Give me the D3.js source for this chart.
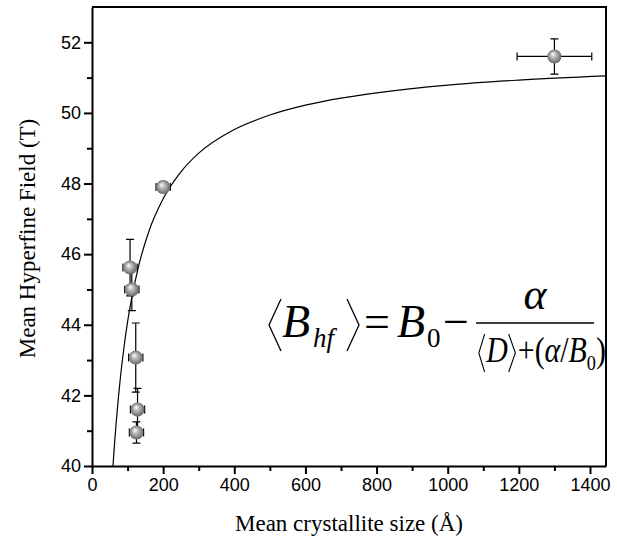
<!DOCTYPE html>
<html>
<head>
<meta charset="utf-8">
<script src="https://cdn.jsdelivr.net/npm/d3@7"></script>
<style>
  body { margin: 0; background: #fff; }
  svg { display: block; }
  .tick text { font-family: "Liberation Sans", Arial, sans-serif; font-size: 18px; fill: #000; }
  .title { font-family: "Liberation Serif", "Times New Roman", serif; font-size: 23px; fill: #000; }
  .eq { font-family: "Liberation Serif", "Times New Roman", serif; fill: #000; }
</style>
</head>
<body>
<svg width="617" height="543"></svg>
<script>
// measured points
var sizes     = [1300, 200, 107, 112, 123, 128, 125];
var fields    = [51.6, 47.9, 45.62, 45.0, 43.07, 41.6, 40.95];
var sizeErr   = [105, 20, 20, 20, 20, 20, 20];
var fieldErr  = [0.5, 0.15, 0.8, 0.6, 0.98, 0.6, 0.3];

// fit curve
var fitSize  = [59, 62, 65, 68, 75, 80, 90, 100, 110, 130, 160, 200, 250, 300, 400, 500, 600, 700, 800, 1000, 1200, 1445];
var fitField = [40.0, 40.44, 40.85, 41.23, 42.02, 42.52, 43.37, 44.08, 44.67, 45.62, 46.65, 47.57, 48.33, 48.86, 49.53, 49.94, 50.22, 50.42, 50.57, 50.79, 50.93, 51.05];

var xTicks = d3.range(0, 1401, 100);
var yTicks = d3.range(40, 53, 1);

var svg = d3.select("svg"),
    mLeft = 92, mRight = 606, mTop = 7, mBottom = 466;

var x = d3.scaleLinear().domain([0, 1445]).range([mLeft, mRight]);
var y = d3.scaleLinear().domain([40, 53]).range([mBottom, mTop]);

var defs = svg.append("defs");
var grad = defs.append("radialGradient")
    .attr("id", "ball")
    .attr("cx", "50%").attr("cy", "50%").attr("r", "55%")
    .attr("fx", "38%").attr("fy", "32%");
grad.append("stop").attr("offset", "0%").attr("stop-color", "#ffffff");
grad.append("stop").attr("offset", "35%").attr("stop-color", "#bdbdbd");
grad.append("stop").attr("offset", "80%").attr("stop-color", "#7a7a7a");
grad.append("stop").attr("offset", "100%").attr("stop-color", "#5a5a5a");

defs.append("clipPath").attr("id", "plot")
  .append("rect").attr("x", mLeft).attr("y", mTop)
    .attr("width", mRight - mLeft).attr("height", mBottom - mTop);

// frame (top and right)
svg.append("path")
    .attr("d", "M" + mLeft + "," + mTop + "H" + mRight + "V" + mBottom)
    .attr("fill", "none").attr("stroke", "#000").attr("stroke-width", 2);

// axes
var xAxis = svg.append("g")
    .attr("transform", "translate(0," + mBottom + ")")
    .call(d3.axisBottom(x).tickValues(xTicks).tickSizeOuter(0)
      .tickFormat(function(d) { return d % 200 == 0 ? d : ""; }));
xAxis.select(".domain").attr("stroke-width", 2);
xAxis.selectAll(".tick line")
    .attr("stroke-width", 2)
    .attr("y2", function(d) { return d % 200 == 0 ? 8 : 5; });
xAxis.selectAll(".tick text").attr("y", 12);

var yAxis = svg.append("g")
    .attr("transform", "translate(" + mLeft + ",0)")
    .call(d3.axisLeft(y).tickValues(yTicks).tickSizeOuter(0)
      .tickFormat(function(d) { return d % 2 == 0 ? d : ""; }));
yAxis.select(".domain").attr("stroke-width", 2);
yAxis.selectAll(".tick line")
    .attr("stroke-width", 2)
    .attr("x2", function(d) { return d % 2 == 0 ? -8 : -5; });
yAxis.selectAll(".tick text").attr("x", -11);

// titles
svg.append("text").attr("class", "title")
    .attr("x", 349).attr("y", 531)
    .attr("text-anchor", "middle")
    .text("Mean crystallite size (Å)");
svg.append("text").attr("class", "title")
    .attr("font-size", 25)
    .attr("transform", "translate(35," + ((mTop + mBottom) / 2 + 2) + ") rotate(-90)")
    .attr("text-anchor", "middle")
    .text("Mean Hyperfine Field (T)");

// fit line
var line = d3.line()
    .x(function(d, i) { return x(fitSize[i]); })
    .y(function(d) { return y(d); })
    .curve(d3.curveMonotoneX);
svg.append("path")
    .attr("clip-path", "url(#plot)")
    .attr("d", line(fitField))
    .attr("fill", "none").attr("stroke", "#000").attr("stroke-width", 1.2);

// error bars and points
var pts = sizes.map(function(s, i) {
  return { s: s, f: fields[i], ds: sizeErr[i], df: fieldErr[i] };
});
var eb = svg.append("g").attr("stroke", "#000").attr("stroke-width", 1.2).attr("fill", "none");
pts.forEach(function(p) {
  var cx = x(p.s), cy = y(p.f);
  var x0 = x(p.s - p.ds), x1 = x(p.s + p.ds);
  var y0 = y(p.f - p.df), y1 = y(p.f + p.df);
  eb.append("path").attr("d",
    "M" + cx + "," + y0 + "V" + y1 +
    "M" + (cx - 4) + "," + y0 + "h8" +
    "M" + (cx - 4) + "," + y1 + "h8" +
    "M" + x0 + "," + cy + "H" + x1 +
    "M" + x0 + "," + (cy - 4) + "v8" +
    "M" + x1 + "," + (cy - 4) + "v8");
});
svg.append("g").selectAll("circle")
  .data(pts).enter().append("circle")
    .attr("cx", function(d) { return x(d.s); })
    .attr("cy", function(d) { return y(d.f); })
    .attr("r", 7)
    .attr("fill", "url(#ball)");

// equation
var eq = svg.append("g").attr("class", "eq");
function angle(g, xa, xb, y0, y1) {
  g.append("path").attr("d", "M" + xa + "," + y0 + "L" + xb + "," + ((y0 + y1) / 2) + "L" + xa + "," + y1)
    .attr("fill", "none").attr("stroke", "#000").attr("stroke-width", 1.3);
}
angle(eq, 281, 269, 299, 351);
eq.append("text").attr("x", 282).attr("y", 337).attr("font-size", 46).attr("font-style", "italic").text("B");
eq.append("text").attr("x", 313).attr("y", 347).attr("font-size", 27).attr("font-style", "italic").text("hf");
angle(eq, 347, 359, 299, 351);
eq.append("text").attr("x", 364).attr("y", 337).attr("font-size", 46).text("=");
eq.append("text").attr("x", 397).attr("y", 337).attr("font-size", 46).attr("font-style", "italic").text("B");
eq.append("text").attr("x", 427).attr("y", 347).attr("font-size", 27).text("0");
eq.append("text").attr("x", 443).attr("y", 337).attr("font-size", 46).text("\u2212");
eq.append("line").attr("x1", 476).attr("x2", 594).attr("y1", 323).attr("y2", 323)
    .attr("stroke", "#000").attr("stroke-width", 1.3);
eq.append("text").attr("x", 535).attr("y", 309).attr("font-size", 44).attr("font-style", "italic")
    .attr("text-anchor", "middle").text("\u03b1");

// denominator, laid out naturally then squeezed to the bar width
var dg = eq.append("g");
var den = dg.append("text").attr("x", 0).attr("y", 362).attr("font-size", 36);
den.append("tspan").attr("dx", 10).attr("font-style", "italic").text("D");
den.append("tspan").attr("dx", 12).text("+(");
den.append("tspan").attr("font-style", "italic").text("\u03b1");
den.append("tspan").text("/");
den.append("tspan").attr("font-style", "italic").text("B");
den.append("tspan").attr("font-size", 22).attr("dy", 8).text("0");
den.append("tspan").attr("dy", -8).text(")");
var dNode = den.node();
var dS = dNode.getStartPositionOfChar(0).x, dE = dNode.getEndPositionOfChar(0).x;
angle(dg, dS - 2, dS - 9, 334, 372);
angle(dg, dE + 1, dE + 9, 334, 372);
var w = dNode.getComputedTextLength() + 10;
dg.attr("transform", "translate(478,0) scale(" + (118 / w) + ",1)");
</script>
</body>
</html>
